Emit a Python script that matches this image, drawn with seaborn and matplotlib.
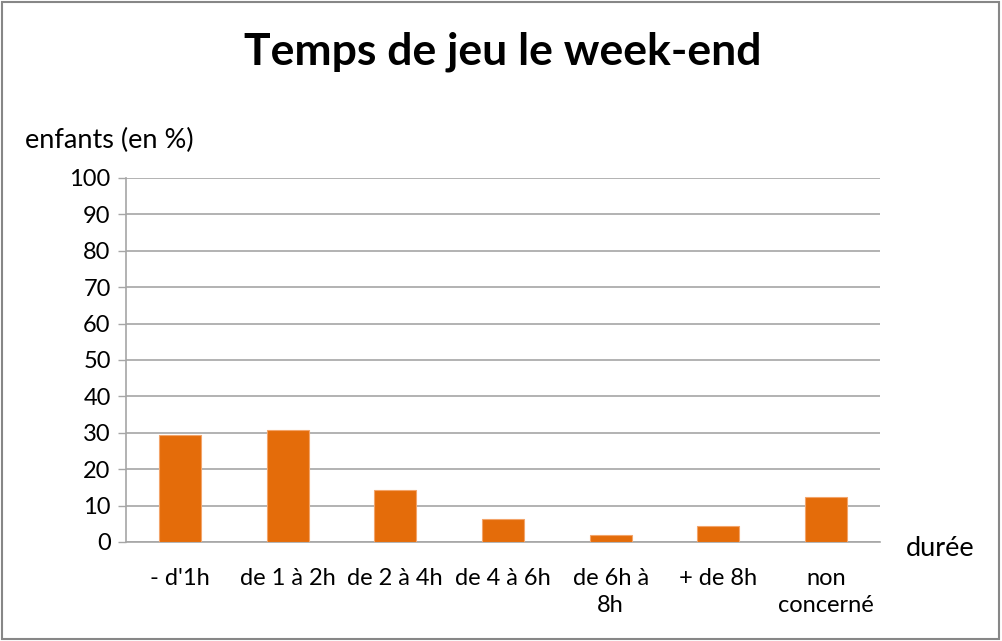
import matplotlib
matplotlib.use('Agg')
import numpy as np
import pandas as pd
import matplotlib.pyplot as plt
import seaborn as sns
from matplotlib.patches import Rectangle

# données
categories = ["- d'1h", "de 1 à 2h", "de 2 à 4h", "de 4 à 6h", "de 6h à\n8h", "+ de 8h", "non\nconcerné"]
valeurs = [29.4, 30.8, 14.2, 6.4, 1.8, 4.3, 12.4]
yticks = [0, 10, 20, 30, 40, 50, 60, 70, 80, 90, 100]

sns.set_theme(style='white')
plt.rcParams['font.family'] = ['Lato', 'DejaVu Sans']

df = pd.DataFrame({'duree': categories, 'pct': valeurs})

fig = plt.figure(figsize=(10.02, 6.41), dpi=100)
ax = fig.add_axes([126 / 1002, 1 - 542 / 641, (880 - 126) / 1002, (542 - 178) / 641])

sns.barplot(data=df, x='duree', y='pct', color='#E46C0A', width=0.39,
            edgecolor='#F3A46A', linewidth=0.8, saturation=1, ax=ax, zorder=3)

ax.set_ylim(0, 100)
ax.set_xlim(-0.5, len(categories) - 0.5)
ax.set_yticks(yticks)
ax.set_yticklabels([str(v) for v in yticks], fontsize=17, color='black')
ax.yaxis.grid(True, color='#A6A6A6', linewidth=1.2, zorder=0)
ax.set_axisbelow(True)

# ticks aux frontières des catégories (style Excel)
ax.set_xticks(range(len(categories)))
ax.set_xticklabels(categories, fontsize=17, color='black', linespacing=1.35)
ax.set_xticks(np.arange(-0.5, len(categories)), minor=True)
ax.tick_params(axis='x', which='major', length=0, pad=19)
ax.tick_params(axis='x', which='minor', length=7, width=1, color='#A6A6A6', direction='out')
ax.tick_params(axis='y', which='major', length=6, width=1, color='#A6A6A6', direction='out', left=True, pad=5)

for side in ['top', 'right']:
    ax.spines[side].set_visible(False)
for side in ['left', 'bottom']:
    ax.spines[side].set_color('#A6A6A6')
    ax.spines[side].set_linewidth(1.2)

ax.set_xlabel('')
ax.set_ylabel('')

fig.text(503 / 1002, 1 - 52 / 641, 'Temps de jeu le week-end', ha='center', va='center',
         fontsize=32, fontweight='bold', color='black')
fig.text(25 / 1002, 1 - 140 / 641, 'enfants (en %)', ha='left', va='center',
         fontsize=19.5, color='black')
fig.text(906 / 1002, 1 - 549 / 641, 'durée', ha='left', va='center',
         fontsize=19.5, color='black')

# cadre gris autour du graphique
fig.patches.append(Rectangle((0.002, 0.003), 0.995, 0.994, transform=fig.transFigure,
                             fill=False, edgecolor='#878787', linewidth=1.5))

fig.savefig('out.png', dpi=100)
